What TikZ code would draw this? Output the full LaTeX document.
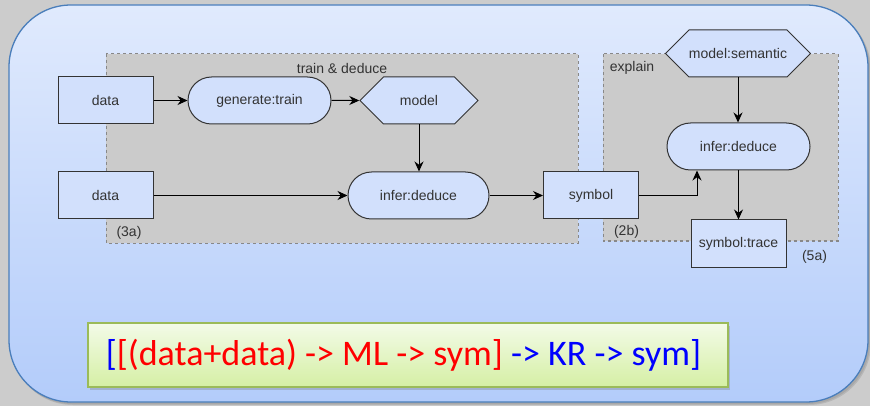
\documentclass[tikz,border=0pt]{standalone}
\usepackage{fontspec}
\setmainfont{Liberation Sans}
\newfontfamily\calfont{Carlito}
\usetikzlibrary{arrows.meta,shapes.symbols,shadows,calc}
\definecolor{pagebg}{HTML}{CCCCCC}
\definecolor{outerTop}{HTML}{E0EAFD}
\definecolor{outerBot}{HTML}{B3CCFA}
\definecolor{outerLine}{HTML}{4A7EBB}
\definecolor{regionFill}{HTML}{CBCBCB}
\definecolor{regionLine}{HTML}{888888}
\definecolor{nodeFill}{HTML}{D2E0FC}
\definecolor{nodeLine}{HTML}{333333}
\definecolor{txt}{HTML}{333333}
\definecolor{fTop}{HTML}{F3FBE8}
\definecolor{fBot}{HTML}{D5EFA4}
\definecolor{fLine}{HTML}{9BBB59}
\definecolor{fRed}{HTML}{FF0000}
\definecolor{fBlue}{HTML}{0000FF}
\tikzset{
  region/.style={fill=regionFill, draw=regionLine, line width=1pt, dash pattern=on 3pt off 3pt},
  nodebase/.style={fill=nodeFill, draw=nodeLine, line width=1pt, text=txt, font=\fontsize{14}{16}\selectfont, inner sep=0pt, minimum height=47pt},
  boxnode/.style={nodebase, rectangle, minimum width=95pt},
  pillnode/.style={nodebase, rectangle, rounded corners=23.5pt, minimum width=#1},
  hexnode/.style={nodebase, signal, signal to=east and west, signal pointer angle=90, minimum width=118pt},
  lbl/.style={text=txt, font=\fontsize{14}{16}\selectfont, inner sep=0pt},
  arr/.style={draw=black, line width=1pt, -{Stealth[length=10pt,width=9pt]}},
}
\begin{document}
\begin{tikzpicture}[x=1pt,y=-1pt]
\useasboundingbox (0,0) rectangle (870,406);
\fill[pagebg] (0,0) rectangle (870,406);
% outer shadow
\fill[black, opacity=0.10, rounded corners=62pt] (11,8) rectangle (871,405);
\fill[black, opacity=0.08, rounded corners=62pt] (10,7) rectangle (870,404);
% outer panel
\draw[top color=outerTop, bottom color=outerBot, draw=outerLine, line width=1.3pt, rounded corners=62pt] (9,5) rectangle (868,402);
% regions
\draw[region] (106,54) rectangle (578,243);
\draw[region] (603,54) rectangle (838,241);
\node[lbl] (lt) at (342,68) {train \& deduce};
\node[lbl] (le) at (632,68) {explain};
\node[lbl] (l3a) at (129,233) {(3a)};
\node[lbl] (l2b) at (626.5,232) {(2b)};
\node[lbl] (l5a) at (814.5,257) {(5a)};
% nodes
\node[boxnode] (d1) at (105.5,100.5) {data};
\node[pillnode=143pt] (gen) at (259.5,100.5) {generate:train};
\node[hexnode] (model) at (419,100.5) {model};
\node[boxnode] (d2) at (105.5,195.5) {data};
\node[pillnode=141pt] (inf1) at (418.5,195.5) {infer:deduce};
\node[boxnode] (sym) at (591,195.5) {symbol};
\node[hexnode] (sem) at (738,53.5) {model:semantic};
\node[pillnode=143pt] (inf2) at (738.5,146.5) {infer:deduce};
\node[boxnode] (trace) at (738.5,243.5) {symbol:trace};
% connectors
\draw[arr] (d1) -- (gen);
\draw[arr] (gen) -- (model);
\draw[arr] (model.south) -- (inf1.north -| model.south);
\draw[arr] (d2) -- (inf1);
\draw[arr] (inf1) -- (sym);
\draw[arr] (sym.east) -| ($(inf2.south)+(-41.5,0)$);
\draw[arr] (sem.south) -- (inf2.north -| sem.south);
\draw[arr] (inf2) -- (trace);
% formula
\node[top color=fTop, bottom color=fBot, draw=fLine, line width=1.4pt, minimum width=640pt, minimum height=64pt, inner sep=0pt,
      drop shadow={shadow xshift=2pt, shadow yshift=-2.5pt, opacity=0.35}] (fbox) at (408,355) {};
\node[inner sep=0pt, font=\calfont\fontsize{36}{40}\selectfont] (ftext) at (403.5,355) {\textcolor{fBlue}{[}\textcolor{fRed}{[(data+data) -> ML -> sym]}\ \textcolor{fBlue}{-> KR -> sym]}};
\end{tikzpicture}
\end{document}
